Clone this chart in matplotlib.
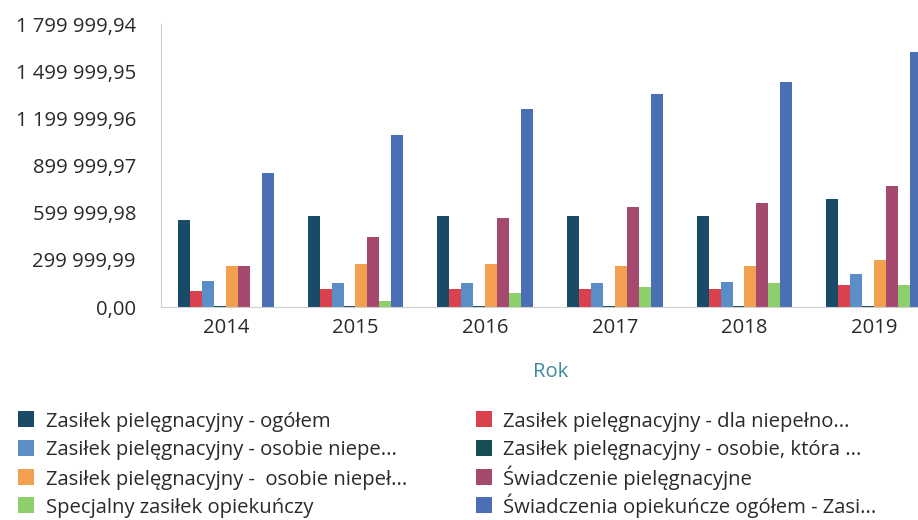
import numpy as np
import matplotlib
matplotlib.use("Agg")
import matplotlib.pyplot as plt
from matplotlib.patches import Rectangle

plt.rcParams['font.family'] = ['Open Sans', 'DejaVu Sans']

years = ["2014", "2015", "2016", "2017", "2018", "2019"]
series_names = [
    "Zasiłek pielęgnacyjny - ogółem",
    "Zasiłek pielęgnacyjny - dla niepełno...",
    "Zasiłek pielęgnacyjny - osobie niepe...",
    "Zasiłek pielęgnacyjny - osobie, która ...",
    "Zasiłek pielęgnacyjny -  osobie niepeł...",
    "Świadczenie pielęgnacyjne",
    "Specjalny zasiłek opiekuńczy",
    "Świadczenia opiekuńcze ogółem - Zasi...",
]
ogolem = [556000, 581000, 581000, 579000, 579000, 687000]
dla_niepelno = [101000, 112000, 112000, 112000, 112000, 138000]
osobie_niepe = [165000, 152000, 152000, 152000, 160000, 211000]
osobie_ktora = [9000, 9000, 9000, 9000, 9000, 9000]
osobie_niepel = [262000, 275000, 275000, 260000, 260000, 296000]
swiadczenie_piel = [262000, 446000, 566000, 639000, 664000, 772000]
specjalny = [0, 40000, 89000, 127000, 150000, 138000]
swiadczenia_ogolem = [850000, 1091000, 1260000, 1357000, 1429000, 1624000]

values = [ogolem, dla_niepelno, osobie_niepe, osobie_ktora,
          osobie_niepel, swiadczenie_piel, specjalny, swiadczenia_ogolem]
colors = ["#194a68", "#d9414e", "#5b8ec6", "#164f52",
          "#f2a050", "#a5496e", "#8ccf6b", "#4b6fb5"]

yticks = [i * 1799999.94 / 6 for i in range(7)]

W, H = 918, 520
fig = plt.figure(figsize=(W / 100, H / 100), dpi=100)
ax = fig.add_axes([161 / W, 1 - 307 / H, (939 - 161) / W, (307 - 24) / H])

x = np.arange(len(years))
n = len(values)
group = 0.74
bw = group / n
for i, (vals, c) in enumerate(zip(values, colors)):
    off = (i - (n - 1) / 2) * bw
    ax.bar(x + off, vals, width=bw, color=c, linewidth=0, label=series_names[i])

FS = 14.6
TXT = "#2a2a2a"
ax.set_xlim(-0.5, len(years) - 0.5)
ax.set_ylim(0, yticks[-1])
ax.set_yticks(yticks)
ax.set_yticklabels([f"{v:,.2f}".replace(",", " ").replace(".", ",") for v in yticks])
ax.set_xticks(x)
ax.set_xticklabels(years)
ax.tick_params(axis='y', length=0, pad=18, labelsize=FS, labelcolor=TXT)
ax.tick_params(axis='x', length=0, pad=8, labelsize=FS, labelcolor=TXT)
for s in ["top", "right"]:
    ax.spines[s].set_visible(False)
for s in ["left", "bottom"]:
    ax.spines[s].set_color("#d0d0d0")
    ax.spines[s].set_linewidth(0.8)
ax.set_xlabel("Rok", fontsize=FS, color="#3f8a9c")
ax.xaxis.set_label_coords((551 - 161) / (939 - 161), -0.195)

# Legend: two columns, row-major order, drawn at fixed rows
row_centers = [419, 448, 477, 505]
col_marker_x = [18, 476]
col_text_x = [46, 503]
msz = 16
for i, (name, c) in enumerate(zip(series_names, colors)):
    r, col = divmod(i, 2)
    yc = row_centers[r]
    mx = col_marker_x[col]
    fig.patches.append(Rectangle((mx / W, 1 - (yc + msz / 2) / H), msz / W, msz / H,
                                 transform=fig.transFigure, facecolor=c, edgecolor="none"))
    fig.text(col_text_x[col] / W, 1 - (yc + 7.5) / H, name, fontsize=FS, color=TXT,
             ha="left", va="baseline")

fig.savefig("out.png", dpi=100)
